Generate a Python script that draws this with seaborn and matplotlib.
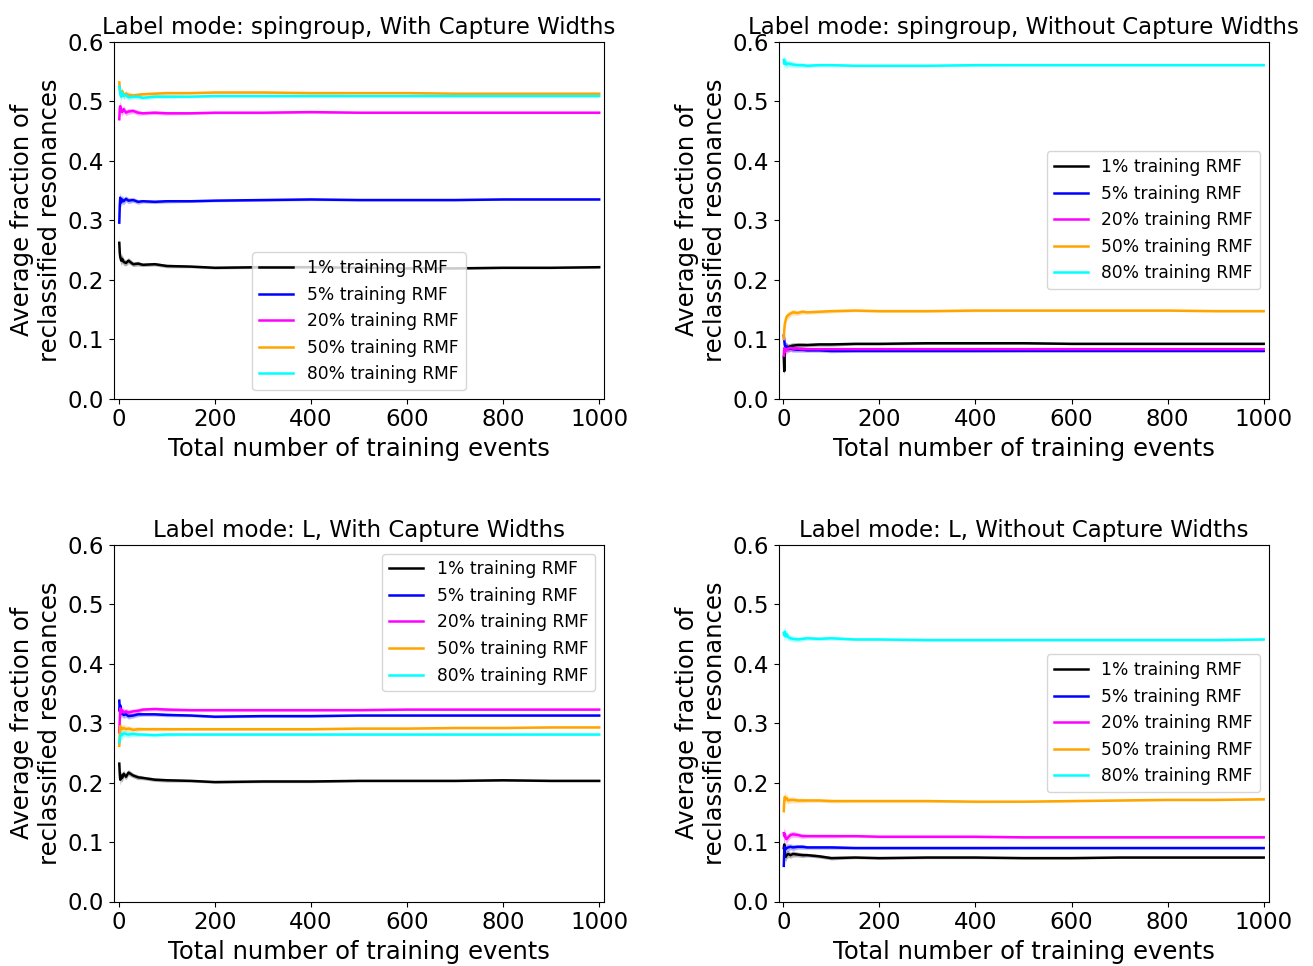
import matplotlib
matplotlib.use("Agg")
import matplotlib.pyplot as plt
import seaborn as sns
import pandas as pd

# Number of training events at which the running averages are recorded
EVENTS = [1, 2, 3, 5, 7, 10, 15, 20, 30, 40, 50, 75, 100, 150, 200,
          300, 400, 500, 600, 700, 800, 900, 1000]

RMF_LABELS = ["1% training RMF", "5% training RMF", "20% training RMF",
              "50% training RMF", "80% training RMF"]
COLORS = ["black", "blue", "magenta", "orange", "cyan"]

PANEL_TITLES = ["Label mode: spingroup, With Capture Widths",
                "Label mode: spingroup, Without Capture Widths",
                "Label mode: L, With Capture Widths",
                "Label mode: L, Without Capture Widths"]

# Label mode: spingroup, with capture widths
sg_cw = [
    [0.262, 0.245, 0.238, 0.232, 0.235, 0.230, 0.228, 0.232, 0.226, 0.227, 0.225, 0.226,
     0.223, 0.222, 0.220, 0.221, 0.221, 0.220, 0.219, 0.219, 0.220, 0.220, 0.221],
    [0.296, 0.325, 0.338, 0.330, 0.335, 0.332, 0.336, 0.333, 0.334, 0.331, 0.332, 0.331,
     0.332, 0.332, 0.333, 0.334, 0.335, 0.334, 0.334, 0.334, 0.335, 0.335, 0.335],
    [0.470, 0.488, 0.492, 0.485, 0.482, 0.487, 0.481, 0.483, 0.484, 0.481, 0.480, 0.481,
     0.480, 0.480, 0.481, 0.481, 0.482, 0.481, 0.481, 0.481, 0.481, 0.481, 0.481],
    [0.532, 0.520, 0.515, 0.512, 0.517, 0.510, 0.513, 0.511, 0.510, 0.511, 0.512, 0.513,
     0.514, 0.514, 0.515, 0.515, 0.514, 0.514, 0.514, 0.513, 0.513, 0.513, 0.513],
    [0.525, 0.522, 0.512, 0.508, 0.515, 0.509, 0.511, 0.507, 0.508, 0.508, 0.506, 0.508,
     0.508, 0.508, 0.509, 0.509, 0.509, 0.509, 0.509, 0.509, 0.509, 0.509, 0.509],
]

# Label mode: spingroup, without capture widths
sg_nocw = [
    [0.070, 0.046, 0.080, 0.088, 0.085, 0.086, 0.088, 0.089, 0.090, 0.090, 0.090, 0.091,
     0.091, 0.092, 0.092, 0.093, 0.093, 0.093, 0.092, 0.092, 0.092, 0.092, 0.092],
    [0.106, 0.098, 0.090, 0.085, 0.088, 0.084, 0.084, 0.083, 0.082, 0.082, 0.081, 0.081,
     0.080, 0.080, 0.080, 0.080, 0.080, 0.080, 0.080, 0.080, 0.080, 0.080, 0.080],
    [0.072, 0.085, 0.078, 0.083, 0.082, 0.084, 0.085, 0.084, 0.084, 0.083, 0.083, 0.083,
     0.083, 0.083, 0.083, 0.083, 0.083, 0.083, 0.083, 0.083, 0.083, 0.083, 0.083],
    [0.100, 0.115, 0.125, 0.132, 0.138, 0.140, 0.143, 0.145, 0.144, 0.146, 0.145, 0.146,
     0.147, 0.148, 0.147, 0.147, 0.148, 0.148, 0.148, 0.148, 0.148, 0.147, 0.147],
    [0.570, 0.563, 0.568, 0.565, 0.562, 0.564, 0.563, 0.562, 0.561, 0.561, 0.560, 0.561,
     0.561, 0.560, 0.560, 0.560, 0.561, 0.561, 0.561, 0.561, 0.561, 0.561, 0.561],
]

# Label mode: L, with capture widths
l_cw = [
    [0.232, 0.215, 0.205, 0.212, 0.208, 0.215, 0.210, 0.217, 0.212, 0.209, 0.208, 0.205,
     0.204, 0.203, 0.201, 0.202, 0.202, 0.203, 0.203, 0.203, 0.204, 0.203, 0.203],
    [0.338, 0.320, 0.330, 0.316, 0.318, 0.314, 0.315, 0.312, 0.313, 0.315, 0.315, 0.315,
     0.314, 0.313, 0.311, 0.312, 0.312, 0.313, 0.313, 0.313, 0.313, 0.313, 0.313],
    [0.285, 0.305, 0.325, 0.318, 0.322, 0.318, 0.320, 0.318, 0.320, 0.321, 0.323, 0.324,
     0.323, 0.322, 0.322, 0.322, 0.322, 0.322, 0.323, 0.323, 0.323, 0.323, 0.323],
    [0.262, 0.280, 0.295, 0.292, 0.290, 0.292, 0.290, 0.291, 0.289, 0.290, 0.290, 0.290,
     0.290, 0.290, 0.290, 0.290, 0.290, 0.291, 0.291, 0.292, 0.292, 0.293, 0.293],
    [0.268, 0.274, 0.278, 0.282, 0.280, 0.283, 0.282, 0.281, 0.282, 0.281, 0.281, 0.280,
     0.281, 0.281, 0.281, 0.281, 0.281, 0.281, 0.281, 0.281, 0.281, 0.281, 0.281],
]

# Label mode: L, without capture widths
l_nocw = [
    [0.090, 0.096, 0.080, 0.075, 0.078, 0.080, 0.078, 0.080, 0.079, 0.078, 0.078, 0.076,
     0.073, 0.074, 0.073, 0.074, 0.074, 0.073, 0.073, 0.074, 0.074, 0.074, 0.074],
    [0.060, 0.085, 0.092, 0.088, 0.090, 0.091, 0.092, 0.091, 0.092, 0.092, 0.091, 0.091,
     0.091, 0.090, 0.090, 0.090, 0.090, 0.090, 0.090, 0.090, 0.090, 0.090, 0.090],
    [0.115, 0.110, 0.114, 0.106, 0.105, 0.108, 0.112, 0.113, 0.112, 0.110, 0.110, 0.110,
     0.110, 0.110, 0.109, 0.109, 0.109, 0.108, 0.108, 0.108, 0.108, 0.108, 0.108],
    [0.152, 0.170, 0.176, 0.172, 0.174, 0.170, 0.171, 0.171, 0.170, 0.170, 0.170, 0.170,
     0.169, 0.169, 0.169, 0.169, 0.168, 0.168, 0.169, 0.170, 0.171, 0.171, 0.172],
    [0.452, 0.448, 0.454, 0.446, 0.450, 0.445, 0.443, 0.442, 0.441, 0.442, 0.443, 0.442,
     0.443, 0.441, 0.441, 0.440, 0.440, 0.440, 0.440, 0.440, 0.440, 0.440, 0.441],
]

# Half-width of the uncertainty band around each running average
BAND = [0.012, 0.010, 0.009, 0.008, 0.007, 0.006, 0.005, 0.005, 0.004, 0.004, 0.003,
        0.003, 0.003, 0.002, 0.002, 0.002, 0.002, 0.0015, 0.0015, 0.0015, 0.0015,
        0.0015, 0.0015]

PANELS = [sg_cw, sg_nocw, l_cw, l_nocw]

plt.rcParams["font.family"] = ["DejaVu Sans"]

W, H = 1313, 966
fig = plt.figure(figsize=(W / 100, H / 100), dpi=100)

# Axes boxes in pixels: (left, top, right, bottom)
boxes = [(114, 42, 604, 398.5), (778.5, 42, 1268.5, 398.5),
         (114, 545, 604, 901.5), (778.5, 545, 1268.5, 901.5)]
legend_locs = ["lower center", "center right", "upper right", "center right"]

for i, (series, title, box) in enumerate(zip(PANELS, PANEL_TITLES, boxes)):
    l, t, r, b = box
    ax = fig.add_axes([l / W, 1 - b / H, (r - l) / W, (b - t) / H])
    for vals, lab, col in zip(series, RMF_LABELS, COLORS):
        df = pd.DataFrame({"events": EVENTS, "frac": vals})
        sns.lineplot(data=df, x="events", y="frac", ax=ax, color=col,
                     linewidth=1.8, label=lab)
        lo = [v - w for v, w in zip(vals, BAND)]
        hi = [v + w for v, w in zip(vals, BAND)]
        ax.fill_between(EVENTS, lo, hi, color=col, alpha=0.3, linewidth=0)
    ax.set_xlim(-10, 1010)
    ax.set_ylim(0, 0.6)
    ax.set_xticks([0, 200, 400, 600, 800, 1000])
    ax.set_yticks([0.0, 0.1, 0.2, 0.3, 0.4, 0.5, 0.6])
    ax.tick_params(labelsize=16.5)
    ax.set_xlabel("Total number of training events", fontsize=17.5)
    ax.set_ylabel("Average fraction of\nreclassified resonances", fontsize=17.5)
    ax.set_title(title, fontsize=16.5)
    ax.legend(fontsize=12.3, loc=legend_locs[i])

fig.savefig("out.png", dpi=100)
